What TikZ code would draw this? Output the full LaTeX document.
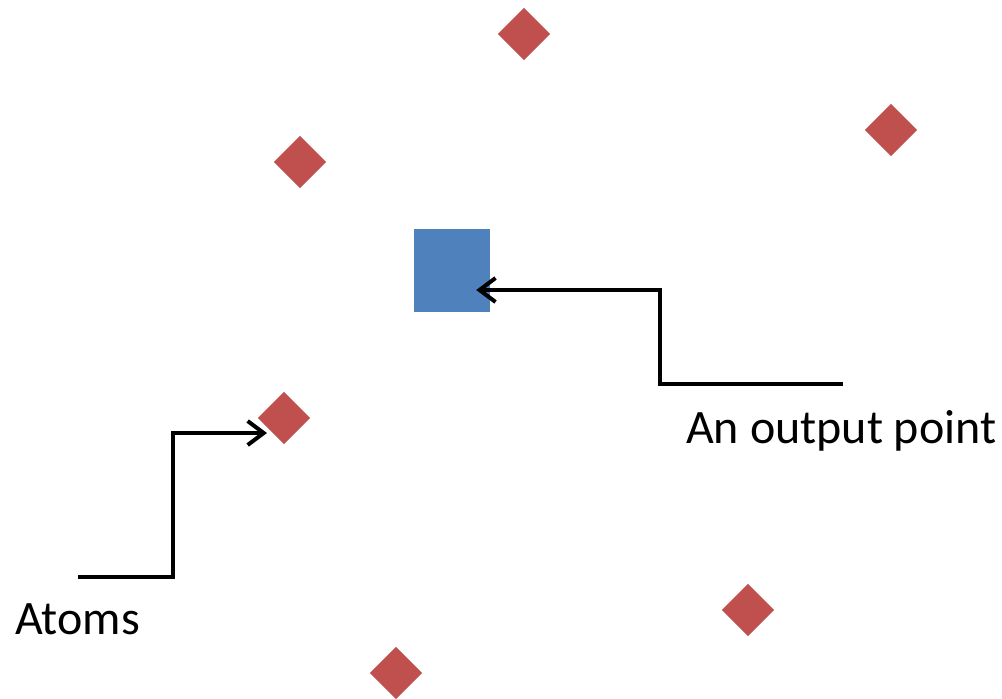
\documentclass[tikz,border=0pt]{standalone}
\usepackage{fontspec}
\setmainfont{Carlito}
\usetikzlibrary{arrows.meta}
\definecolor{atomred}{HTML}{C0504D}
\definecolor{outblue}{HTML}{4F81BD}
\begin{document}
\begin{tikzpicture}[x=1pt,y=-1pt,
  atom/.style={fill=atomred,draw=none,minimum size=37pt,inner sep=0pt,rotate=45},
  outpt/.style={fill=outblue,draw=none,minimum width=76pt,minimum height=83pt,inner sep=0pt},
  lbl/.style={font=\fontsize{48}{56}\selectfont,inner sep=0pt,anchor=base west},
  pointer/.style={line width=4.5pt,-{Straight Barb[length=16pt,width=24pt,line width=4pt]}}]
\useasboundingbox (0,0) rectangle (1002,699);
\node[atom] (a1) at (524,34) {};
\node[atom] (a2) at (891,130) {};
\node[atom] (a3) at (300,162) {};
\node[atom] (a4) at (284,418) {};
\node[atom] (a5) at (748,610) {};
\node[atom] (a6) at (396,673) {};
\node[outpt] (sq) at (452,270) {};
\node[lbl] (tout) at (686,443) {An output point};
\node[lbl] (tat) at (15,634) {Atoms};
\coordinate (s1) at (843,384);
\coordinate (e1) at ([xshift=-14pt]sq.east |- 0,290);
\coordinate (s2) at (78,577);
\coordinate (e2) at (267,433);
\draw[pointer] (s1) -- (660,384) -- (660,290) -- (e1);
\draw[pointer] (s2) -- (173,577) -- (173,433) -- (e2);
\end{tikzpicture}
\end{document}
